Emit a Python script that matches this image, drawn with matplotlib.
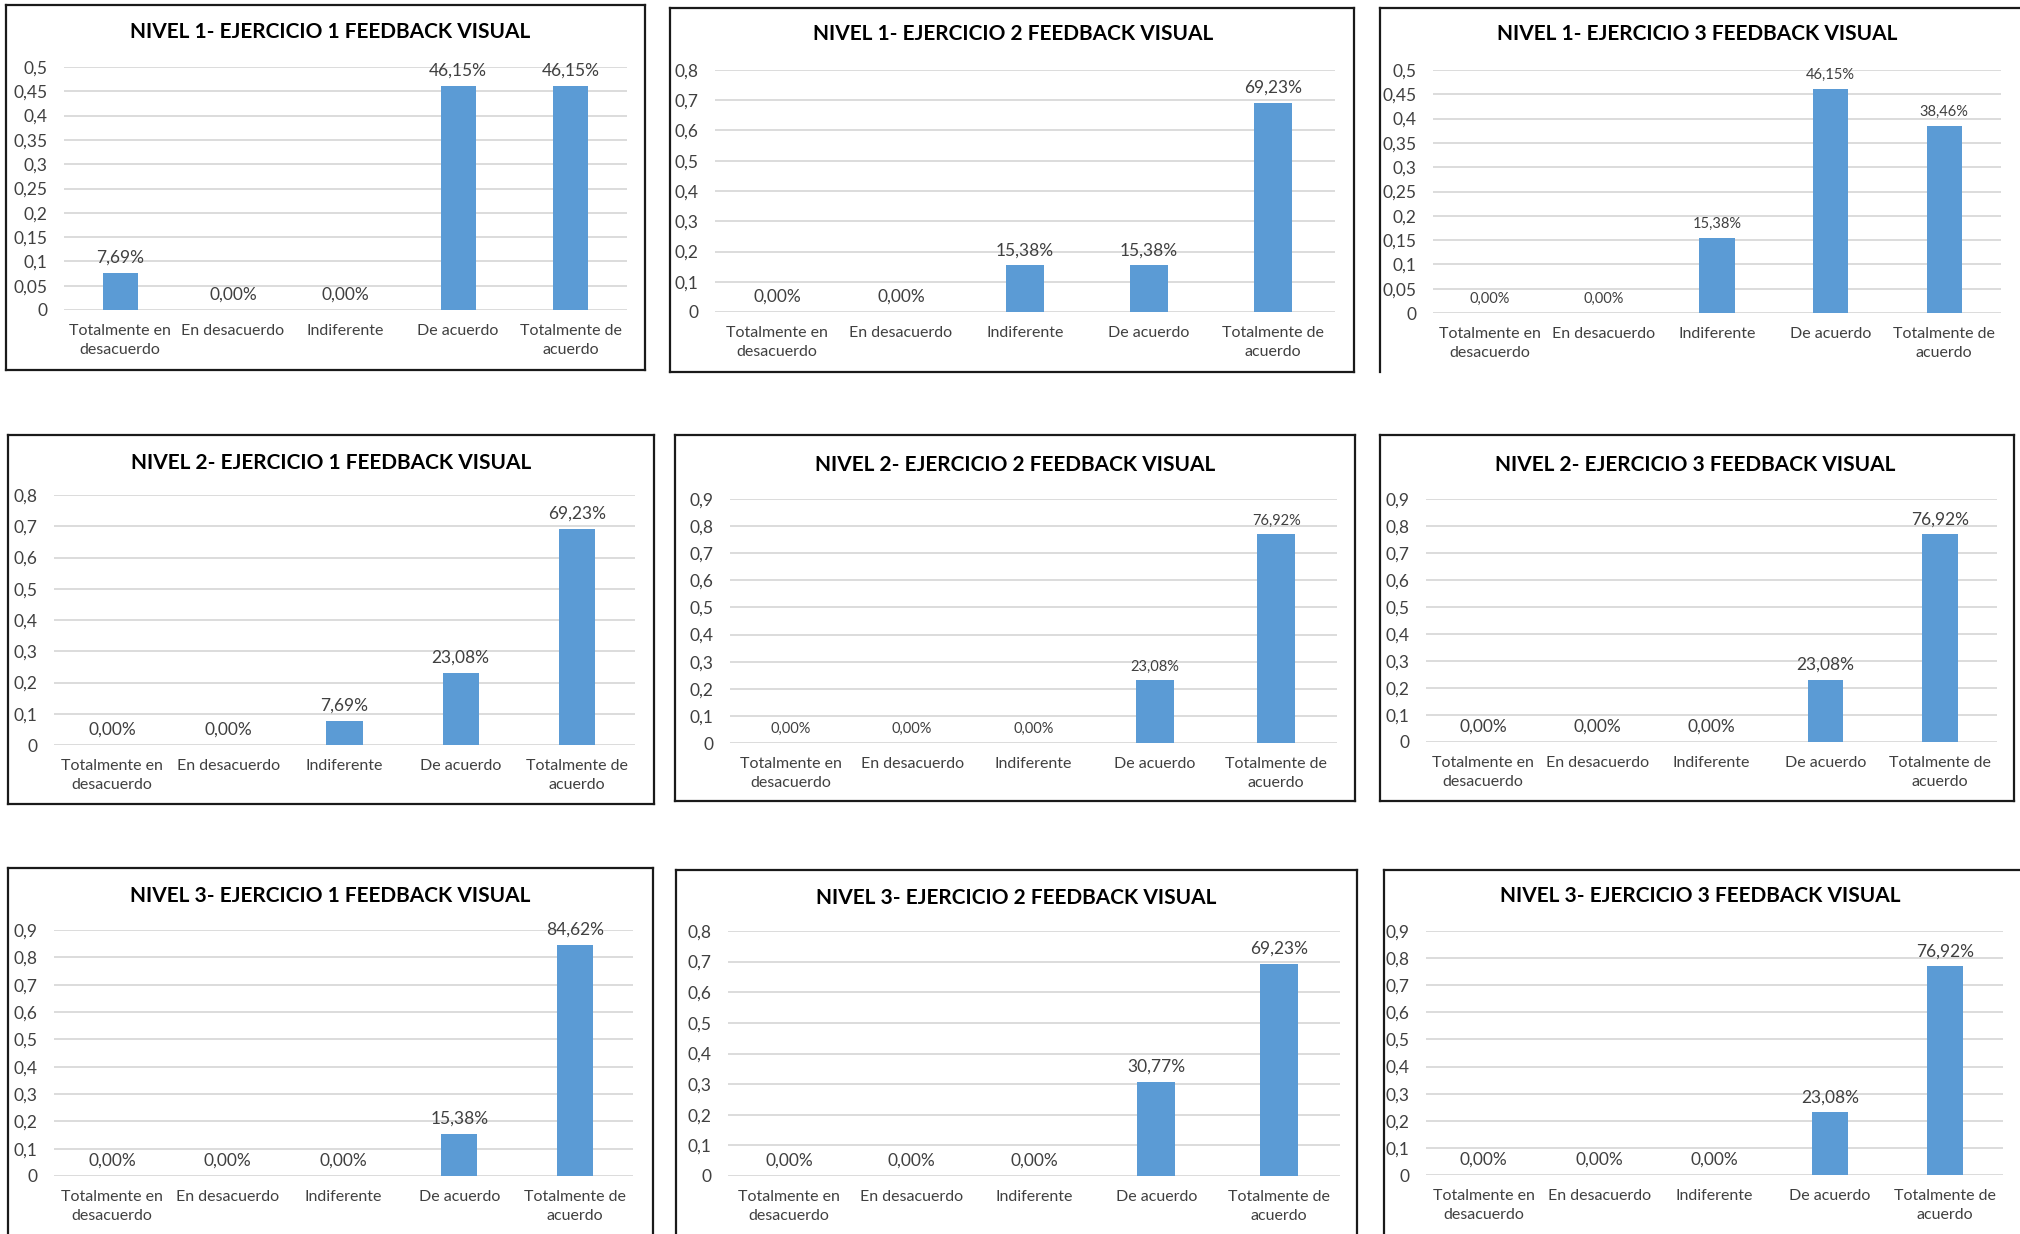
import matplotlib

matplotlib.use("Agg")
import matplotlib.pyplot as plt
import numpy as np
from matplotlib.lines import Line2D

plt.rcParams["font.family"] = ["Lato", "DejaVu Sans"]

W, H = 2020, 1234

categories = [
    "Totalmente en\ndesacuerdo",
    "En desacuerdo",
    "Indiferente",
    "De acuerdo",
    "Totalmente de\nacuerdo",
]

titles = [
    "NIVEL 1- EJERCICIO 1 FEEDBACK VISUAL",
    "NIVEL 1- EJERCICIO 2 FEEDBACK VISUAL",
    "NIVEL 1- EJERCICIO 3 FEEDBACK VISUAL",
    "NIVEL 2- EJERCICIO 1 FEEDBACK VISUAL",
    "NIVEL 2- EJERCICIO 2 FEEDBACK VISUAL",
    "NIVEL 2- EJERCICIO 3 FEEDBACK VISUAL",
    "NIVEL 3- EJERCICIO 1 FEEDBACK VISUAL",
    "NIVEL 3- EJERCICIO 2 FEEDBACK VISUAL",
    "NIVEL 3- EJERCICIO 3 FEEDBACK VISUAL",
]

# share of answers per category, one list per exercise
n1_e1 = [0.0769, 0.0, 0.0, 0.4615, 0.4615]
n1_e2 = [0.0, 0.0, 0.1538, 0.1538, 0.6923]
n1_e3 = [0.0, 0.0, 0.1538, 0.4615, 0.3846]
n2_e1 = [0.0, 0.0, 0.0769, 0.2308, 0.6923]
n2_e2 = [0.0, 0.0, 0.0, 0.2308, 0.7692]
n2_e3 = [0.0, 0.0, 0.0, 0.2308, 0.7692]
n3_e1 = [0.0, 0.0, 0.0, 0.1538, 0.8462]
n3_e2 = [0.0, 0.0, 0.0, 0.3077, 0.6923]
n3_e3 = [0.0, 0.0, 0.0, 0.2308, 0.7692]
series = [n1_e1, n1_e2, n1_e3, n2_e1, n2_e2, n2_e3, n3_e1, n3_e2, n3_e3]

# y axis maximum and step of each chart
y_max = [0.5, 0.8, 0.5, 0.8, 0.9, 0.9, 0.9, 0.8, 0.9]
y_step = [0.05, 0.1, 0.05, 0.1, 0.1, 0.1, 0.1, 0.1, 0.1]

# layout in pixels: frame (x0, y0, x1, y1), plot area (left, top, right, bottom),
# title centre y, visible frame sides
frames = [
    (6, 5, 645, 370), (670, 8, 1354, 372), (1380, 8, 2030, 372),
    (8, 435, 654, 804), (675, 435, 1355, 801), (1380, 435, 2014, 801),
    (8, 868, 653, 1250), (676, 870, 1357, 1250), (1384, 870, 2030, 1250),
]
plots = [
    (64, 67, 627, 310), (715, 70, 1335, 312), (1433, 70, 2001, 313),
    (54, 495, 635, 745), (730, 499, 1337, 743), (1426, 499, 1997, 742),
    (54, 930, 633, 1176), (728, 931, 1340, 1176), (1426, 931, 2003, 1175),
]
title_y = [32, 34, 34, 463, 465, 465, 896, 898, 896]
title_x = [330, 1013, 1697, 331, 1015, 1695, 330, 1016, 1700]
sides = ["ltrb", "ltrb", "lt", "ltrb", "ltrb", "ltrb", "ltr", "ltr", "lt"]
label_size = [12.5, 12.5, 10.5, 12.5, 10.5, 12.5, 12.5, 12.5, 12.5]

BAR = "#5B9BD5"
GRID = "#D9D9D9"
TXT = "#404040"


def fx(x):
    return x / W


def fy(y):
    return 1 - y / H


def pct(v):
    return f"{v * 100:.2f}%".replace(".", ",")


def tick(v):
    s = f"{v:.2f}".rstrip("0").rstrip(".")
    return s.replace(".", ",")


fig = plt.figure(figsize=(W / 100, H / 100), dpi=100)
fig.patch.set_facecolor("white")

for i in range(9):
    x0, y0, x1, y1 = frames[i]
    edges = {
        "l": ([x0, x0], [y0, y1]),
        "t": ([x0, x1], [y0, y0]),
        "r": ([x1, x1], [y0, y1]),
        "b": ([x0, x1], [y1, y1]),
    }
    for s in sides[i]:
        xs, ys = edges[s]
        fig.add_artist(Line2D([fx(v) for v in xs], [fy(v) for v in ys],
                              color="#1a1a1a", lw=1.6))

    fig.text(fx(title_x[i]), fy(title_y[i]), titles[i], ha="center", va="center",
             fontsize=15, fontweight="bold", color="#000000")

    l, t, r, b = plots[i]
    ax = fig.add_axes([fx(l), fy(b), (r - l) / W, (b - t) / H])
    x = np.arange(len(categories))
    vals = series[i]
    ax.bar(x, vals, width=0.31, color=BAR, zorder=3)
    ax.set_xlim(-0.5, len(categories) - 0.5)
    ax.set_ylim(0, y_max[i])
    ticks = np.arange(0, y_max[i] + y_step[i] / 2, y_step[i])
    ax.set_yticks(ticks)
    ax.set_yticklabels([tick(v) for v in ticks])
    ax.set_xticks(x)
    ax.set_xticklabels(categories, linespacing=1.45)
    ax.grid(axis="y", color=GRID, lw=1.3, zorder=0)
    for sp in ax.spines.values():
        sp.set_visible(False)
    ax.tick_params(axis="y", length=0, labelsize=12.5, colors=TXT, pad=12)
    ax.tick_params(axis="x", length=0, labelsize=11.5, colors=TXT, pad=10)
    for xi, v in zip(x, vals):
        ax.annotate(pct(v), (xi, v), xytext=(0, 5), textcoords="offset points",
                    ha="center", va="bottom", fontsize=label_size[i], color=TXT)

fig.savefig("out.png", dpi=100)
